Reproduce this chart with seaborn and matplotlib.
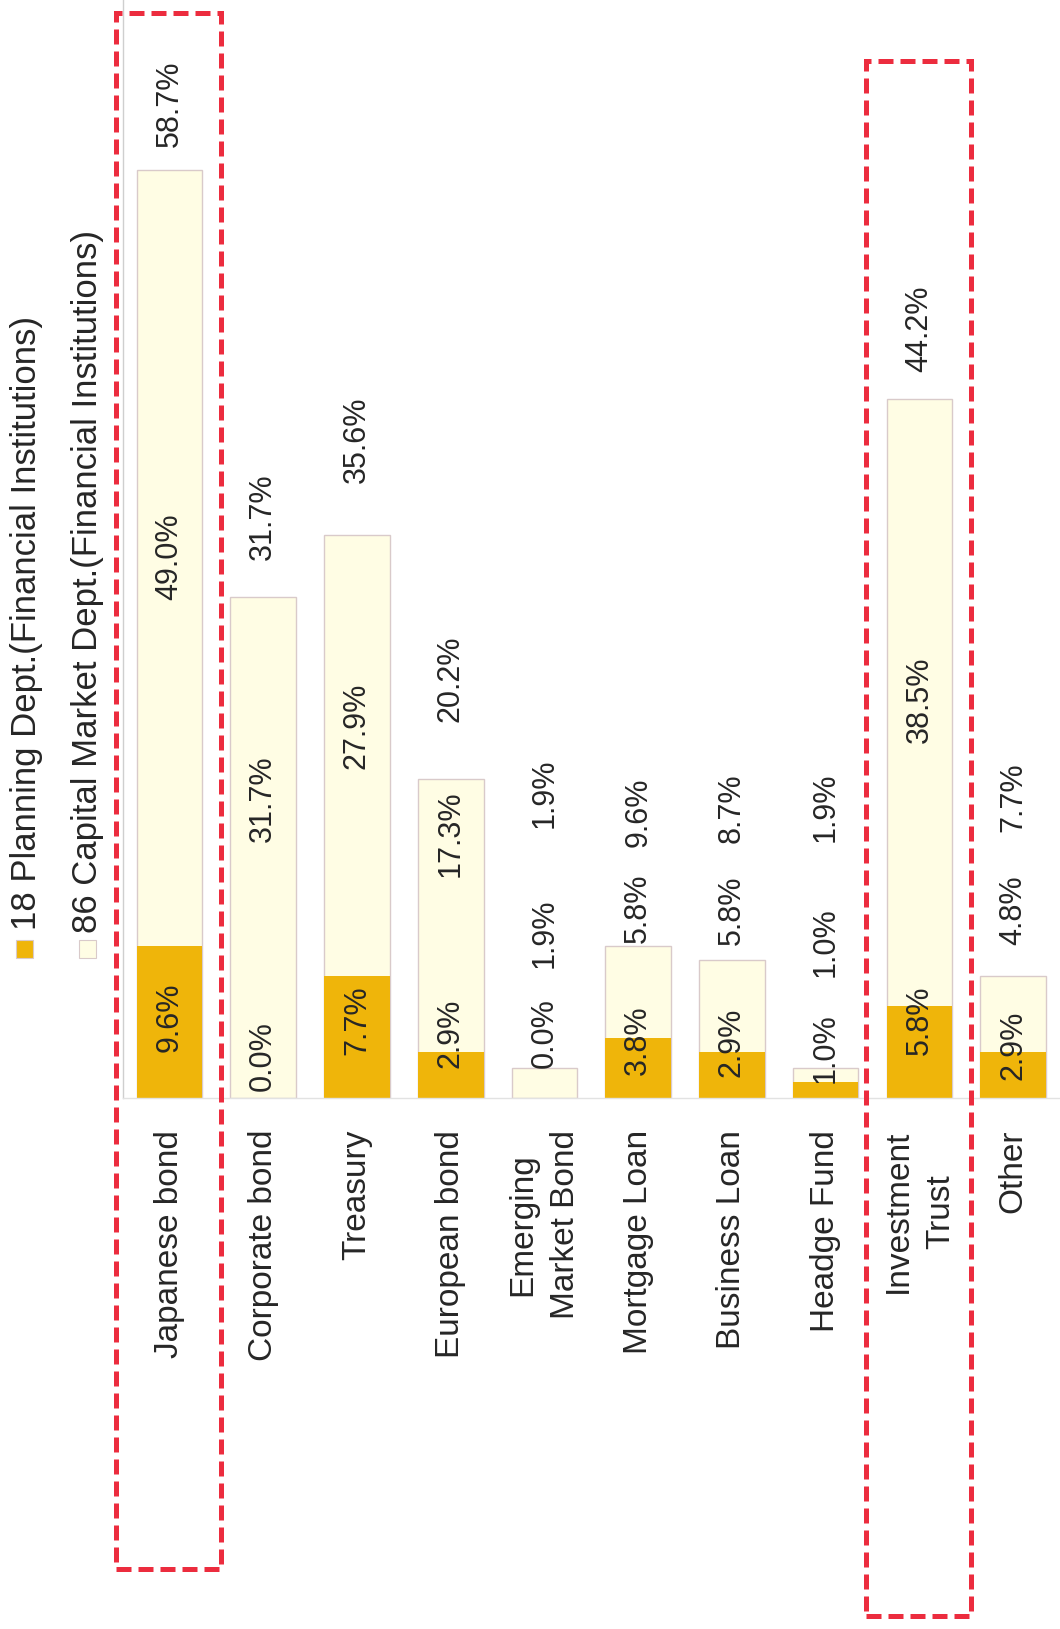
import matplotlib
matplotlib.use("Agg")
import matplotlib.pyplot as plt
import matplotlib.transforms as mtransforms
from matplotlib.patches import Rectangle
import seaborn as sns
import pandas as pd

# Survey data: share of respondents investing in each asset class (%)
categories = ["Japanese bond", "Corporate bond", "Treasury", "European bond",
              "Emerging\nMarket Bond", "Mortgage Loan", "Business Loan",
              "Headge Fund", "Investment\nTrust", "Other"]
planning = [9.6, 0.0, 7.7, 2.9, 0.0, 3.8, 2.9, 1.0, 5.8, 2.9]
capital_market = [49.0, 31.7, 27.9, 17.3, 1.9, 5.8, 5.8, 1.0, 38.5, 4.8]
total = [58.7, 31.7, 35.6, 20.2, 1.9, 9.6, 8.7, 1.9, 44.2, 7.7]
legend_labels = ["18 Planning Dept.(Financial Institutions)",
                 "86 Capital Market Dept.(Financial Institutions)"]
highlighted = ["Japanese bond", "Investment\nTrust"]

# Where each value label starts, in value units
planning_label_y = [2.9, 0.45, 2.7, 1.9, 1.9, 1.45, 1.3, 0.95, 2.7, 1.15]
market_label_y = [31.5, 16.2, 20.8, 14.0, 8.2, 9.8, 9.7, 7.65, 22.45, 9.7]
total_label_y = [60.15, 34.0, 38.9, 23.8, 17.1, 15.9, 16.1, 16.2, 45.9, 16.8]

GOLD = "#EFB50A"
CREAM = "#FFFDE4"
EDGE = "#D9CACA"
TEXT = "#262626"
RED = "#EC2C3E"

sns.set_style("white")
plt.rcParams["font.family"] = ["Liberation Sans", "DejaVu Sans"]

fig = plt.figure(figsize=(10.6, 16.29), dpi=100)
ax = fig.add_axes([0.1157, 0.326, 0.8843, 0.674])

df = pd.DataFrame({"category": categories, "planning": planning,
                   "capital_market": capital_market, "total": total})

# Combined share drawn as the pale bar, planning share overlaid in gold
sns.barplot(data=df, x="category", y="total", color=CREAM, saturation=1,
            width=0.70, edgecolor=EDGE, linewidth=1.0, ax=ax)
sns.barplot(data=df, x="category", y="planning", color=GOLD, saturation=1,
            width=0.70, linewidth=0, ax=ax)

ax.set_xlim(-0.5, len(categories) - 0.5)
ax.set_ylim(0, 69.45)
ax.set_xlabel("")
ax.set_ylabel("")
ax.set_yticks([])
for side in ("top", "right"):
    ax.spines[side].set_visible(False)
ax.spines["left"].set_color("#CFCFCF")
ax.spines["left"].set_linewidth(1.0)
ax.spines["bottom"].set_color("#E2E2E2")
ax.spines["bottom"].set_linewidth(1.0)

ax.tick_params(axis="x", length=0, pad=23, labelsize=24, colors=TEXT)
for lab in ax.get_xticklabels():
    lab.set_rotation(90)
    lab.set_ha("center")
    lab.set_va("top")
    lab.set_multialignment("center")
    lab.set_linespacing(1.5)

# Value labels
for i in range(len(categories)):
    for y, v in ((planning_label_y[i], planning[i]),
                 (market_label_y[i], capital_market[i]),
                 (total_label_y[i], total[i])):
        ax.text(i, y, f"{v:.1f}%", rotation=90, ha="center", va="bottom",
                fontsize=22, color=TEXT, zorder=4)

# Legend, written vertically in the upper-left corner
H, W = 1629.0, 1060.0
for (sq_x, txt_x, txt_bottom), face, label in zip(
        [(16, 27, 930), (79, 88, 933)], [GOLD, CREAM], legend_labels):
    fig.add_artist(Rectangle((sq_x / W, 1 - 958 / H), 17 / W, 18 / H,
                             transform=fig.transFigure, facecolor=face,
                             edgecolor=EDGE, linewidth=0.8))
    fig.text(txt_x / W, 1 - txt_bottom / H, label, rotation=90,
             ha="center", va="bottom", fontsize=25, color=TEXT)

# Dashed red frames around the highlighted categories
blend = mtransforms.blended_transform_factory(ax.transData, fig.transFigure)
for name, (y0, y1) in zip(highlighted, [(0.0368, 0.992), (0.008, 0.9626)]):
    i = categories.index(name)
    ax.add_patch(Rectangle((i - 0.57, y0), 1.12, y1 - y0, transform=blend,
                           fill=False, edgecolor=RED, linewidth=3.6,
                           linestyle=(0, (3, 1.4)), clip_on=False, zorder=5))

fig.savefig("out.png", dpi=100)
